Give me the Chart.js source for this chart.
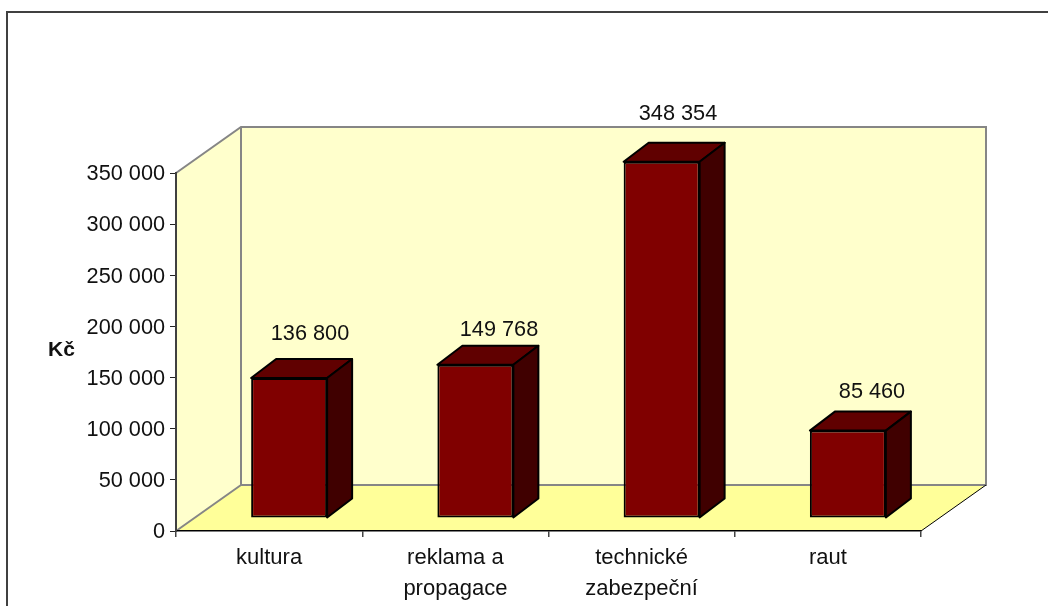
<!DOCTYPE html>
<html>
<head>
<meta charset="utf-8">
<style>html,body{margin:0;padding:0;background:#fff}canvas{display:block}</style>
<script src="https://cdn.jsdelivr.net/npm/chart.js@4"></script>
</head>
<body>
<div style="width:1048px;height:606px"><canvas id="c" width="1048" height="606"></canvas></div>
<script>
const categories = [["kultura"], ["reklama a", "propagace"], ["technické", "zabezpeční"], ["raut"]];
const values = [136800, 149768, 348354, 85460];
const valueLabels = ["136 800", "149 768", "348 354", "85 460"];
const axisTitle = "Kč";

const FONT = '"Liberation Sans", Arial, sans-serif';
const TEXT = '#111';
const DEPTH = {x: 65, y: 46};
const BAR_SHIFT = {x: 20, y: 13};
const BAR_DEPTH = {x: 25, y: 19};
const LABEL_POS = [[310, 334], [499, 330], [678, 114], [872, 392]];

const poly = (ctx, pts, fill, stroke, lw) => {
  ctx.beginPath();
  pts.forEach((p, i) => i ? ctx.lineTo(p[0], p[1]) : ctx.moveTo(p[0], p[1]));
  ctx.closePath();
  if (fill) { ctx.fillStyle = fill; ctx.fill(); }
  if (stroke) { ctx.strokeStyle = stroke; ctx.lineWidth = lw || 1; ctx.lineJoin = 'round'; ctx.stroke(); }
};

const box3d = {
  id: 'box3d',
  afterLayout(chart) {
    const s = chart.scales.y;
    if (s._labelShifted) return;
    s._labelShifted = true;
    const orig = s.drawLabels;
    s.drawLabels = function (area) {
      const c = this.ctx;
      c.save();
      c.translate(0, 1.3);
      orig.call(this, area);
      c.restore();
    };
  },
  beforeDraw(chart) {
    const {ctx} = chart, x = chart.scales.x, y = chart.scales.y;
    const l = x.left, r = x.right, t = y.top, b = y.bottom, dx = DEPTH.x, dy = DEPTH.y;
    ctx.save();
    ctx.fillStyle = '#fff'; ctx.fillRect(0, 0, chart.width, chart.height);
    // outer frame: only top and left are inside the picture
    ctx.strokeStyle = '#000'; ctx.lineWidth = 1.5;
    ctx.beginPath(); ctx.moveTo(6, 12); ctx.lineTo(chart.width, 12); ctx.stroke();
    ctx.strokeStyle = '#404040'; ctx.lineWidth = 2;
    ctx.beginPath(); ctx.moveTo(7, 11); ctx.lineTo(7, chart.height); ctx.stroke();
    // floor, walls
    poly(ctx, [[l, b], [l + dx, b - dy], [r + dx, b - dy], [r, b]], '#FFFF99');
    poly(ctx, [[l, t], [l + dx, t - dy], [l + dx, b - dy], [l, b]], '#FFFFCC');
    poly(ctx, [[l + dx, t - dy], [r + dx, t - dy], [r + dx, b - dy], [l + dx, b - dy]], '#FFFFCC');
    // edges
    ctx.strokeStyle = '#868686'; ctx.lineWidth = 2;
    ctx.lineJoin = 'miter';
    ctx.beginPath();
    ctx.moveTo(l, t); ctx.lineTo(l + dx, t - dy); ctx.lineTo(r + dx, t - dy); ctx.lineTo(r + dx, b - dy); ctx.lineTo(l + dx, b - dy); ctx.lineTo(l + dx, t - dy);
    ctx.moveTo(l, b); ctx.lineTo(l + dx, b - dy);
    ctx.stroke();
    ctx.strokeStyle = '#000'; ctx.lineWidth = 1;
    ctx.beginPath(); ctx.moveTo(r, b); ctx.lineTo(r + dx, b - dy); ctx.stroke();
    ctx.restore();
  },
  beforeDatasetDraw(chart) {
    const {ctx} = chart;
    const meta = chart.getDatasetMeta(0);
    ctx.save();
    ctx.translate(BAR_SHIFT.x, -BAR_SHIFT.y);
    meta.data.forEach(bar => {
      const hw = bar.width / 2, L = bar.x - hw, R = bar.x + hw, T = bar.y, B = bar.base, dx = BAR_DEPTH.x, dy = BAR_DEPTH.y;
      poly(ctx, [[L, T], [L + dx, T - dy], [R + dx, T - dy], [R, T]], '#600000', '#000', 2);
      poly(ctx, [[R, T], [R + dx, T - dy], [R + dx, B - dy], [R, B]], '#400000', '#000', 2);
    });
  },
  afterDatasetDraw(chart) {
    chart.ctx.restore();
  },
  afterDraw(chart) {
    const {ctx} = chart;
    ctx.save();
    ctx.fillStyle = TEXT;
    ctx.textBaseline = 'middle';
    ctx.textAlign = 'center';
    ctx.font = '21.7px ' + FONT;
    valueLabels.forEach((s, i) => ctx.fillText(s, LABEL_POS[i][0], LABEL_POS[i][1]));
    ctx.font = 'bold 21px ' + FONT;
    ctx.fillText(axisTitle, 61.5, 350);
    ctx.restore();
  }
};

new Chart(document.getElementById('c'), {
  type: 'bar',
  data: {
    labels: categories,
    datasets: [{
      data: values,
      backgroundColor: '#800000',
      borderColor: '#000',
      borderWidth: 2,
      borderSkipped: false,
      barPercentage: 0.408,
      categoryPercentage: 1,
      clip: false
    }]
  },
  plugins: [box3d],
  options: {
    responsive: false,
    animation: false,
    devicePixelRatio: 1,
    layout: {padding: {left: 0, top: 173, right: 127, bottom: 0}},
    plugins: {legend: {display: false}, tooltip: {enabled: false}, title: {display: false}},
    scales: {
      x: {
        afterFit(s) { s.height = 75; },
        grid: {display: true, drawOnChartArea: false, drawTicks: true, tickLength: 6, color: '#444', lineWidth: 1.5, offset: true},
        border: {display: true, color: '#000', width: 1.5},
        ticks: {color: TEXT, font: {family: FONT, size: 22, lineHeight: 1.38}, maxRotation: 0, autoSkip: false, padding: 6}
      },
      y: {
        min: 0, max: 350000,
        afterFit(s) { s.width = 176; },
        afterBuildTicks(s) { s.ticks = [0, 50000, 100000, 150000, 200000, 250000, 300000, 350000].map(v => ({value: v})); },
        grid: {display: true, drawOnChartArea: false, drawTicks: true, tickLength: 6, color: '#222'},
        border: {display: true, color: '#404040', width: 2},
        ticks: {
          color: TEXT, font: {family: FONT, size: 21.7}, padding: 5,
          callback: v => String(v).replace(/\B(?=(\d{3})+$)/g, ' ')
        }
      }
    }
  }
});
</script>
</body>
</html>
